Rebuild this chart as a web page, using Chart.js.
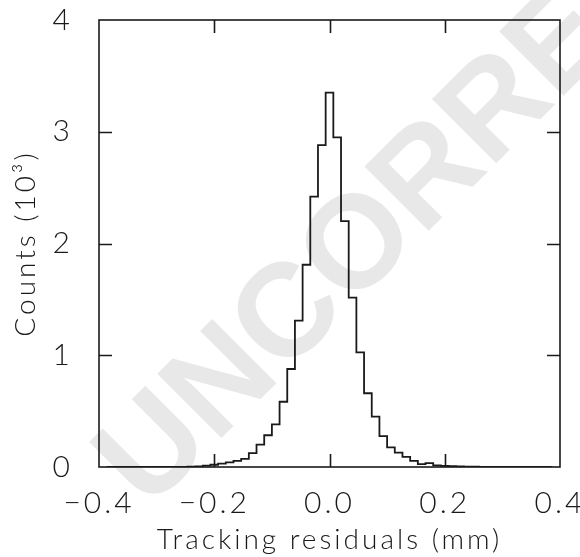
<!DOCTYPE html>
<html>
<head>
<meta charset="utf-8">
<script src="https://cdn.jsdelivr.net/npm/chart.js@4/dist/chart.umd.min.js"></script>
<style>
  html, body { margin: 0; padding: 0; background: #fff; }
  #wrap { width: 580px; height: 557px; position: relative; }
</style>
</head>
<body>
<div id="wrap"><canvas id="histChart"></canvas></div>
<script>
// bin width in mm, bins centred on 0 (index 0 = bin at -29*BIN_WIDTH)
const BIN_WIDTH = 0.01333;
const BIN_INDEX = [
  -29, -28, -27, -26, -25, -24, -23, -22, -21, -20,
  -19, -18, -17, -16, -15, -14, -13, -12, -11, -10,
  -9, -8, -7, -6, -5, -4, -3, -2, -1, 0,
  1, 2, 3, 4, 5, 6, 7, 8, 9, 10,
  11, 12, 13, 14, 15, 16, 17, 18, 19, 20,
  21, 22, 23, 24, 25, 26, 27, 28, 29
];
// counts in units of 10^3
const COUNTS = [
  0, 0, 0, 0, 0, 0, 0, 0, 0, 0,
  0.002, 0.004, 0.006, 0.012, 0.020, 0.030, 0.042, 0.055, 0.072, 0.125,
  0.200, 0.284, 0.382, 0.584, 0.877, 1.310, 1.810, 2.420, 2.880, 3.350,
  2.950, 2.200, 1.515, 1.026, 0.660, 0.450, 0.277, 0.176, 0.128, 0.090,
  0.054, 0.025, 0.035, 0.015, 0.010, 0.008, 0.005, 0.004, 0.003, 0.002,
  0, 0, 0, 0, 0, 0, 0, 0, 0
];
const X_TICKS = [-0.4, -0.2, 0.0, 0.2, 0.4];
const Y_TICKS = [0, 1, 2, 3, 4];
const X_TITLE = 'Tracking residuals (mm)';
const Y_TITLE = 'Counts (10\u00B3)';
const WATERMARK = 'UNCORRECTED';

const FONT = "'Lato', 'DejaVu Sans', sans-serif";
const INK = '#1a1a1a';

const points = BIN_INDEX.map((k, i) => ({ x: k * BIN_WIDTH, y: COUNTS[i] }));

function fmtX(v) {
  if (Math.abs(v) < 1e-9) return '0.0';
  return v.toFixed(1).replace('-', '\u2212');
}

// wide letter spacing like the original plot font; canvas resizes reset it
const spacing = {
  id: 'spacing',
  beforeLayout(chart) { chart.ctx.letterSpacing = '3px'; },
  beforeDraw(chart) { chart.ctx.letterSpacing = '3px'; }
};

// faint proof watermark behind the plot
const watermark = {
  id: 'watermark',
  beforeDraw(chart) {
    const c = chart.ctx;
    c.save();
    c.letterSpacing = '0px';
    c.translate(122, 486);
    c.rotate(-Math.PI / 4);
    c.font = "bold 132px 'Liberation Sans', sans-serif";
    c.fillStyle = '#e8e8e8';
    c.textBaseline = 'middle';
    c.textAlign = 'left';
    c.fillText(WATERMARK, 0, 0);
    c.restore();
  }
};

// box frame with inward ticks on all four sides
const frame = {
  id: 'frame',
  afterDatasetsDraw(chart) {
    const { ctx: c, chartArea: a, scales } = chart;
    const tl = 13;
    c.save();
    c.strokeStyle = INK;
    c.lineWidth = 1.6;
    c.strokeRect(a.left, a.top, a.right - a.left, a.bottom - a.top);
    c.beginPath();
    X_TICKS.slice(1, -1).forEach(v => {
      const px = Math.round(scales.x.getPixelForValue(v)) + 0.5;
      c.moveTo(px, a.bottom); c.lineTo(px, a.bottom - tl);
      c.moveTo(px, a.top); c.lineTo(px, a.top + tl);
    });
    Y_TICKS.slice(1, -1).forEach(v => {
      const py = Math.round(scales.y.getPixelForValue(v)) + 0.5;
      c.moveTo(a.left, py); c.lineTo(a.left + tl, py);
      c.moveTo(a.right, py); c.lineTo(a.right - tl, py);
    });
    c.stroke();
    c.restore();
  }
};

const canvas = document.getElementById('histChart');

new Chart(canvas.getContext('2d'), {
  type: 'line',
  data: {
    datasets: [{
      data: points,
      stepped: 'middle',
      borderColor: INK,
      borderWidth: 1.8,
      pointRadius: 0,
      fill: false
    }]
  },
  options: {
    responsive: true,
    maintainAspectRatio: false,
    animation: false,
    layout: { padding: { top: 20, right: 20, left: 0, bottom: 0 } },
    plugins: { legend: { display: false }, tooltip: { enabled: false } },
    scales: {
      x: {
        type: 'linear',
        min: -0.4,
        max: 0.4,
        afterBuildTicks: s => { s.ticks = X_TICKS.map(v => ({ value: v })); },
        afterFit: s => { s.height = 90; s.paddingLeft = 0; s.paddingRight = 0; },
        grid: { display: false, drawTicks: false },
        border: { display: false },
        ticks: {
          callback: v => fmtX(v),
          color: INK,
          padding: 18,
          maxRotation: 0,
          autoSkip: false,
          font: { family: FONT, size: 30, weight: '300' }
        },
        title: {
          display: true,
          text: X_TITLE,
          color: INK,
          padding: { top: 0, bottom: 0 },
          font: { family: FONT, size: 28, weight: '300' }
        }
      },
      y: {
        min: 0,
        max: 4,
        afterBuildTicks: s => { s.ticks = Y_TICKS.map(v => ({ value: v })); },
        afterFit: s => { s.width = 99; s.paddingTop = 0; s.paddingBottom = 0; },
        grid: { display: false, drawTicks: false },
        border: { display: false },
        ticks: {
          color: INK,
          padding: 26,
          font: { family: FONT, size: 30, weight: '300' }
        },
        title: {
          display: true,
          text: Y_TITLE,
          color: INK,
          padding: { top: 9, bottom: 0 },
          font: { family: FONT, size: 28, weight: '300' }
        }
      }
    }
  },
  plugins: [spacing, watermark, frame]
});
</script>
</body>
</html>
